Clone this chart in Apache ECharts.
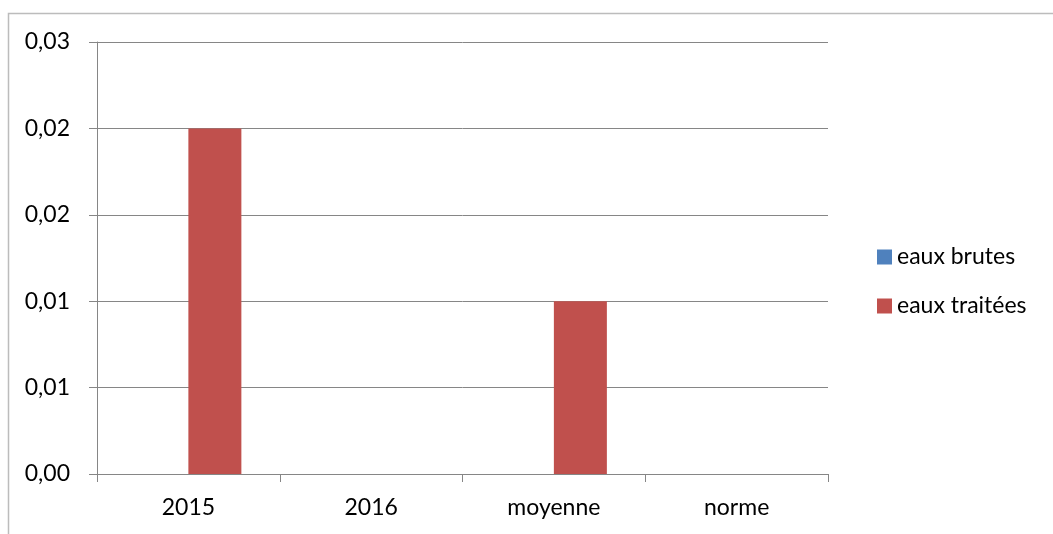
<!DOCTYPE html>
<html>
<head>
<meta charset="utf-8">
<script src="https://cdn.jsdelivr.net/npm/echarts@6/dist/echarts.min.js"></script>
<style>
  html, body { margin: 0; padding: 0; background: #ffffff; }
  #chart { width: 1053px; height: 534px; }
</style>
</head>
<body>
<div id="chart"></div>
<script>
// Categories and series values
const categories = ['2015', '2016', 'moyenne', 'norme'];
const eauxBrutes = [0, 0, 0, 0];
const eauxTraitees = [0.02, 0, 0.01, 0];

// Y axis: ticks every 0.005, labels rounded to two decimals (French comma)
const yMin = 0;
const yMax = 0.025;
const yStep = 0.005;
const yTickLabels = ['0,00', '0,01', '0,01', '0,02', '0,02', '0,03'];

const FONT = 'Lato';
const AXIS_GREY = '#868686';

const chart = echarts.init(document.getElementById('chart'), null, { renderer: 'canvas' });

chart.setOption({
  backgroundColor: '#ffffff',
  animation: false,
  textStyle: { fontFamily: FONT, color: '#000000' },
  graphic: [{
    type: 'rect',
    silent: true,
    shape: { x: 8.5, y: 13.5, width: 1200, height: 700 },
    style: { fill: 'none', stroke: '#bcbcbc', lineWidth: 1.5 }
  }],
  grid: { left: 97, right: 225, top: 42, bottom: 60, containLabel: false },
  legend: {
    orient: 'vertical',
    left: 872,
    top: 240,
    icon: 'rect',
    itemWidth: 15,
    itemHeight: 15,
    itemGap: 25,
    textStyle: { fontFamily: FONT, fontSize: 23, color: '#000000', lineHeight: 24 },
    data: ['eaux brutes', 'eaux traitées']
  },
  xAxis: {
    type: 'category',
    data: categories,
    axisLine: { lineStyle: { color: AXIS_GREY, width: 1 } },
    axisTick: { show: true, length: 8, inside: false, alignWithLabel: false, lineStyle: { color: AXIS_GREY } },
    axisLabel: { fontFamily: FONT, fontSize: 23, color: '#000000', margin: 22 },
    splitLine: { show: false }
  },
  yAxis: {
    type: 'value',
    min: yMin,
    max: yMax,
    interval: yStep,
    axisLine: { show: true, lineStyle: { color: AXIS_GREY, width: 1 } },
    axisTick: { show: true, length: 8, inside: false, lineStyle: { color: AXIS_GREY } },
    axisLabel: {
      fontFamily: FONT, fontSize: 23, color: '#000000', margin: 27,
      formatter: function (v) { return yTickLabels[Math.round((v - yMin) / yStep)]; }
    },
    splitLine: { show: true, lineStyle: { color: AXIS_GREY, width: 1 } }
  },
  series: [
    {
      name: 'eaux brutes',
      type: 'bar',
      data: eauxBrutes,
      itemStyle: { color: '#4F81BD' },
      barGap: '0%',
      barCategoryGap: '42%'
    },
    {
      name: 'eaux traitées',
      type: 'bar',
      data: eauxTraitees,
      itemStyle: { color: '#C0504D' },
      barGap: '0%',
      barCategoryGap: '42%'
    }
  ]
});
</script>
</body>
</html>
